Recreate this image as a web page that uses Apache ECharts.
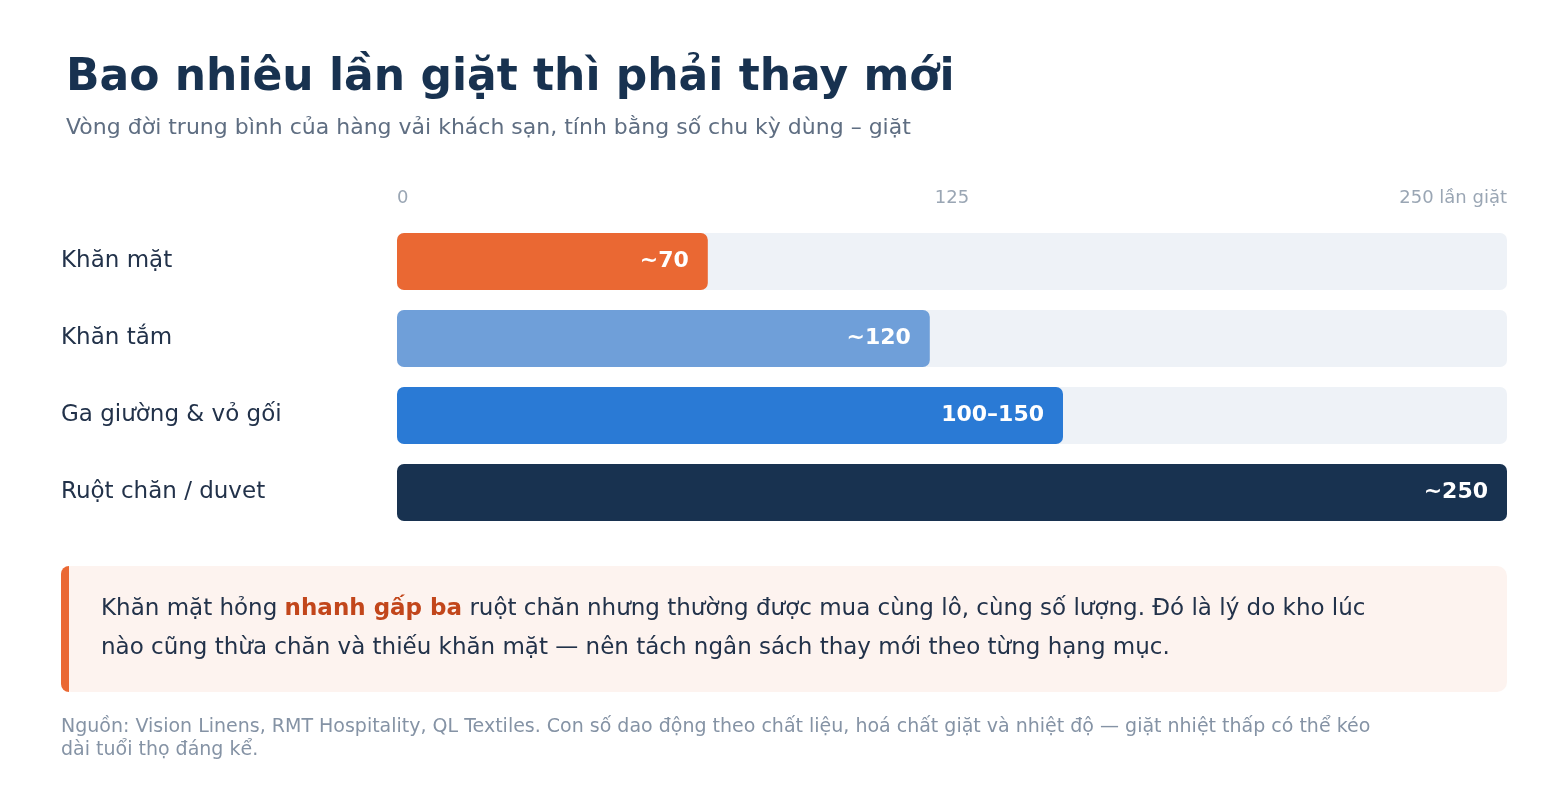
<!DOCTYPE html>
<html>
  <head>
    <meta charset="utf-8">
    <title>Bao nhiêu lần giặt</title>
    <script src="https://cdn.jsdelivr.net/npm/echarts/dist/echarts.min.js"></script>
    <style>html,body{margin:0;padding:0;background:#fff;}</style>
  </head>
  <body>
    <div id="chart" style="width: 1541px; height: 793px;"></div>
    <script type="text/javascript">
      var categories = ["Khăn mặt", "Khăn tắm", "Ga giường & vỏ gối", "Ruột chăn / duvet"];
      var values = [70, 120, 150, 250];
      var valueLabels = ["~70", "~120", "100–150", "~250"];
      var barColors = ["#EA6833", "#6F9FD9", "#2A7AD5", "#183250"];
      var tickLabels = { 0: "0", 125: "125", 250: "250 lần giặt" };

      var font = "DejaVu Sans";
      var chart = echarts.init(document.getElementById("chart"));
      chart.setOption({
        backgroundColor: "#ffffff",
        textStyle: { fontFamily: font },
        animation: false,
        title: {
          text: "Bao nhiêu lần giặt thì phải thay mới",
          subtext: "Vòng đời trung bình của hàng vải khách sạn, tính bằng số chu kỳ dùng – giặt",
          left: 61, top: 52,
          textStyle: { fontFamily: font, fontSize: 44, fontWeight: "bold", color: "#183250" },
          subtextStyle: { fontFamily: font, fontSize: 22, color: "#5F6E82" },
          itemGap: 16
        },
        grid: { left: 397, right: 34, top: 223, bottom: 262 },
        xAxis: {
          type: "value", position: "top", min: 0, max: 250, interval: 125,
          splitLine: { show: false }, axisLine: { show: false }, axisTick: { show: false },
          axisLabel: {
            color: "#9AA6B4", fontSize: 18, margin: 16,
            alignMinLabel: "left", alignMaxLabel: "right",
            formatter: function (v) { return tickLabels[v] || ""; }
          }
        },
        yAxis: {
          type: "category", data: categories, inverse: true,
          axisLine: { show: false }, axisTick: { show: false },
          axisLabel: { align: "left", margin: 336, fontSize: 23, color: "#22324A" }
        },
        series: [{
          type: "bar", barWidth: 57,
          data: values.map(function (v, i) {
            return { value: v, itemStyle: { color: barColors[i], borderRadius: 7 } };
          }),
          showBackground: true,
          backgroundStyle: { color: "#EEF2F7", borderRadius: 7 },
          label: {
            show: true, position: "insideRight", distance: 19,
            color: "#ffffff", fontSize: 22, fontWeight: "bold",
            formatter: function (p) { return valueLabels[p.dataIndex]; }
          }
        }],
        graphic: [
          { type: "rect", shape: { x: 61, y: 566, width: 1446, height: 126, r: 10 }, style: { fill: "#FDF3EF" } },
          { type: "rect", shape: { x: 61, y: 566, width: 8, height: 126, r: [8, 0, 0, 8] }, style: { fill: "#EA6833" } },
          {
            type: "text", left: 101, top: 590,
            style: {
              text: "Khăn mặt hỏng {b|nhanh gấp ba} ruột chăn nhưng thường được mua cùng lô, cùng số lượng. Đó là lý do kho lúc\nnào cũng thừa chăn và thiếu khăn mặt — nên tách ngân sách thay mới theo từng hạng mục.",
              font: "23px 'DejaVu Sans'", fill: "#22324A", lineHeight: 39,
              rich: { b: { fontFamily: font, fontSize: 23, fontWeight: "bold", fill: "#C2461B", lineHeight: 39 } }
            }
          },
          {
            type: "text", left: 61, top: 716,
            style: {
              text: "Nguồn: Vision Linens, RMT Hospitality, QL Textiles. Con số dao động theo chất liệu, hoá chất giặt và nhiệt độ — giặt nhiệt thấp có thể kéo\ndài tuổi thọ đáng kể.",
              font: "19px 'DejaVu Sans'", fill: "#8593A5", lineHeight: 23
            }
          }
        ]
      });
    </script>
  </body>
</html>
